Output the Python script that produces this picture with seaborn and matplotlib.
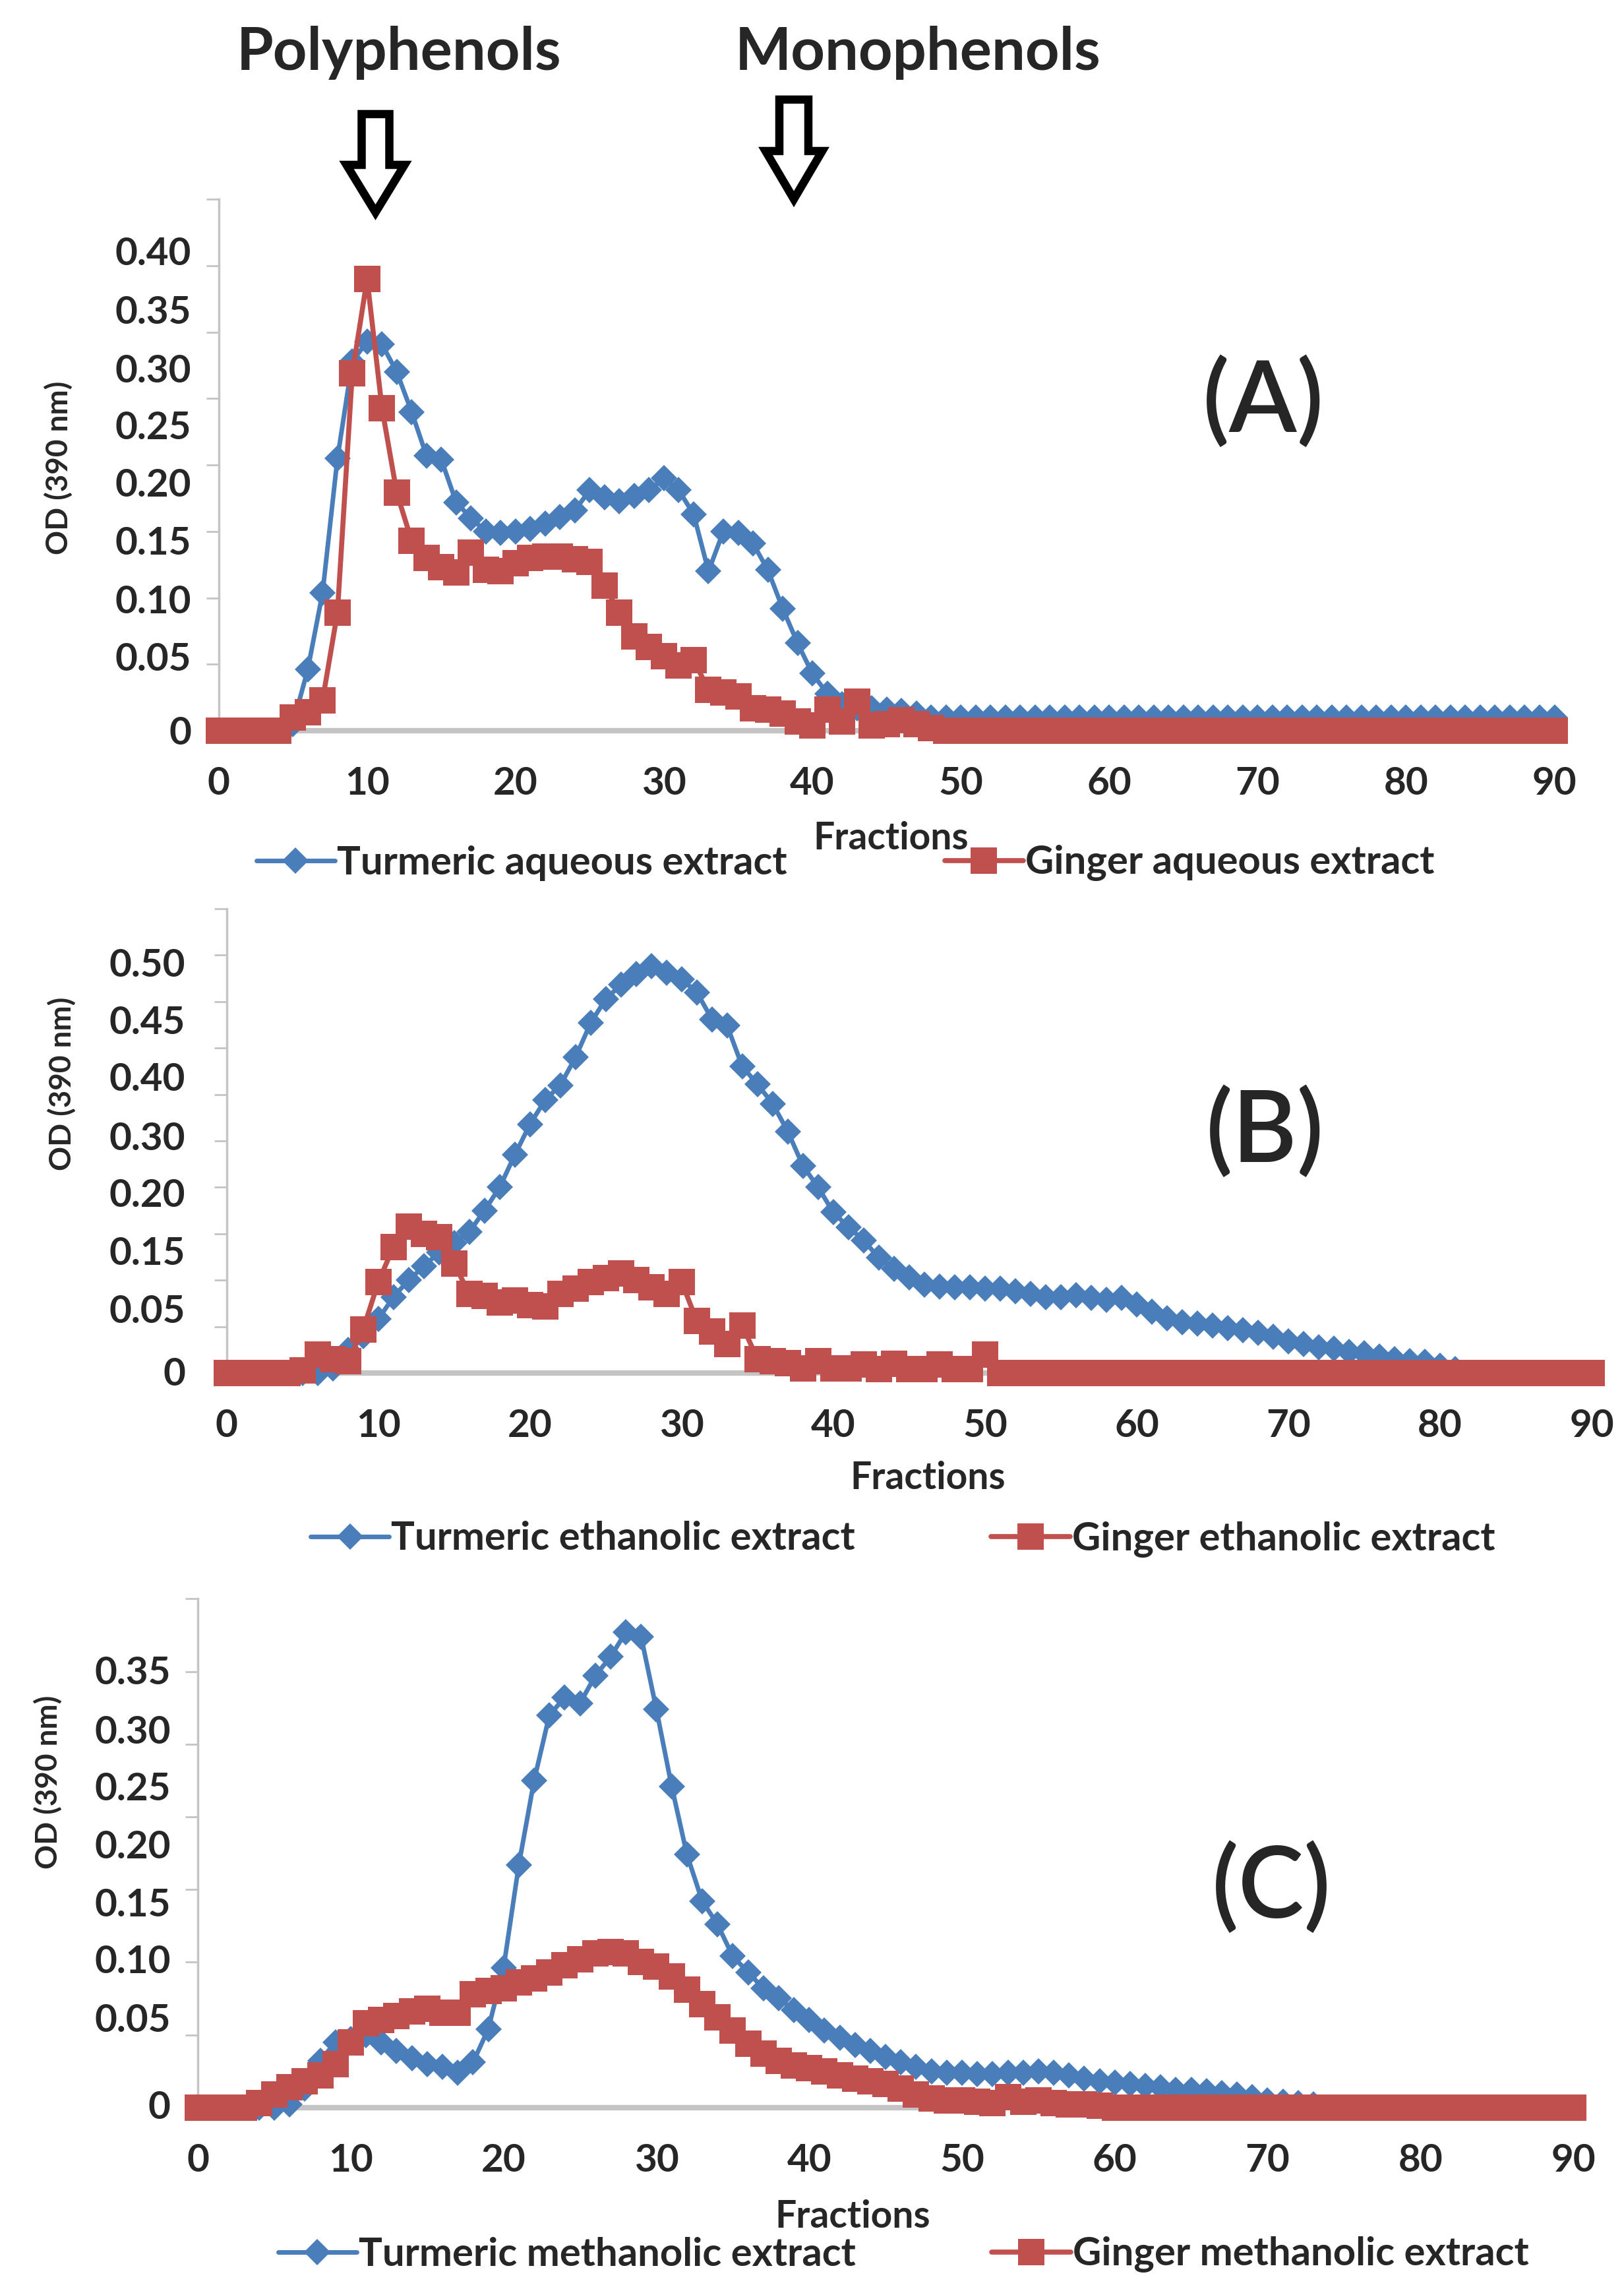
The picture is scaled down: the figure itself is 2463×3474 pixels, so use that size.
import numpy as np
import pandas as pd
import matplotlib
matplotlib.use("Agg")
import matplotlib.pyplot as plt
from matplotlib.lines import Line2D
from matplotlib.patches import Polygon
import seaborn as sns

# ---- data ----
fractions = list(range(0, 91))

turmeric_aq = [
    0, 0, 0, 0, 0, 0.005, 0.046, 0.104, 0.205, 0.278,
    0.293, 0.291, 0.270, 0.240, 0.207, 0.204, 0.172, 0.160, 0.150, 0.149,
    0.150, 0.152, 0.156, 0.161, 0.166, 0.181, 0.176, 0.173, 0.177, 0.181,
    0.190, 0.181, 0.163, 0.120, 0.150, 0.149, 0.141, 0.121, 0.092, 0.066,
    0.043, 0.028, 0.020, 0.017, 0.017, 0.016, 0.015, 0.013, 0.010, 0.010,
    0.010, 0.010, 0.010, 0.010, 0.010, 0.010, 0.010, 0.010, 0.010, 0.010,
    0.010, 0.010, 0.010, 0.010, 0.010, 0.010, 0.010, 0.010, 0.010, 0.010,
    0.010, 0.010, 0.010, 0.010, 0.010, 0.010, 0.010, 0.010, 0.010, 0.010,
    0.010, 0.010, 0.010, 0.010, 0.010, 0.010, 0.010, 0.010, 0.010, 0.010,
    0.010]
ginger_aq = [
    0, 0, 0, 0, 0, 0.010, 0.014, 0.023, 0.089, 0.269,
    0.340, 0.243, 0.179, 0.143, 0.130, 0.123, 0.119, 0.134, 0.121, 0.120,
    0.126, 0.130, 0.131, 0.131, 0.129, 0.127, 0.109, 0.089, 0.071, 0.063,
    0.056, 0.049, 0.053, 0.031, 0.029, 0.026, 0.017, 0.016, 0.013, 0.007,
    0.004, 0.016, 0.007, 0.022, 0.004, 0.005, 0.008, 0.005, 0.002, 0,
    0, 0, 0, 0, 0, 0, 0, 0, 0, 0,
    0, 0, 0, 0, 0, 0, 0, 0, 0, 0,
    0, 0, 0, 0, 0, 0, 0, 0, 0, 0,
    0, 0, 0, 0, 0, 0, 0, 0, 0, 0,
    0]

turmeric_eth = [
    0, 0, 0, 0, 0, 0, 0, 0.005, 0.025, 0.040,
    0.058, 0.082, 0.100, 0.115, 0.130, 0.140, 0.152, 0.175, 0.200, 0.235,
    0.268, 0.294, 0.310, 0.340, 0.377, 0.403, 0.418, 0.430, 0.438, 0.431,
    0.424, 0.410, 0.381, 0.374, 0.330, 0.311, 0.290, 0.260, 0.223, 0.200,
    0.173, 0.157, 0.143, 0.124, 0.112, 0.103, 0.095, 0.093, 0.092, 0.092,
    0.091, 0.091, 0.088, 0.085, 0.082, 0.082, 0.084, 0.081, 0.079, 0.081,
    0.074, 0.066, 0.059, 0.055, 0.053, 0.051, 0.048, 0.046, 0.043, 0.039,
    0.034, 0.031, 0.028, 0.026, 0.023, 0.021, 0.018, 0.015, 0.013, 0.012,
    0.008, 0.004, 0, 0, 0, 0, 0, 0, 0, 0,
    0]
ginger_eth = [
    0, 0, 0, 0, 0, 0.003, 0.020, 0.015, 0.013, 0.047,
    0.098, 0.136, 0.158, 0.150, 0.146, 0.118, 0.085, 0.083, 0.076, 0.078,
    0.073, 0.072, 0.085, 0.091, 0.098, 0.102, 0.107, 0.100, 0.092, 0.085,
    0.098, 0.056, 0.045, 0.031, 0.051, 0.015, 0.013, 0.011, 0.005, 0.013,
    0.005, 0.005, 0.009, 0.004, 0.010, 0.004, 0.004, 0.009, 0.004, 0.004,
    0.020, 0, 0, 0, 0, 0, 0, 0, 0, 0,
    0, 0, 0, 0, 0, 0, 0, 0, 0, 0,
    0, 0, 0, 0, 0, 0, 0, 0, 0, 0,
    0, 0, 0, 0, 0, 0, 0, 0, 0, 0,
    0]

turmeric_meth = [
    0, 0, 0, 0, 0, 0, 0.002, 0.013, 0.032, 0.045,
    0.047, 0.050, 0.045, 0.039, 0.034, 0.030, 0.028, 0.024, 0.031, 0.054,
    0.096, 0.167, 0.225, 0.270, 0.282, 0.278, 0.297, 0.310, 0.327, 0.324,
    0.274, 0.221, 0.174, 0.142, 0.126, 0.104, 0.093, 0.082, 0.075, 0.067,
    0.060, 0.053, 0.048, 0.043, 0.039, 0.035, 0.031, 0.028, 0.025, 0.024,
    0.024, 0.023, 0.023, 0.024, 0.024, 0.025, 0.024, 0.022, 0.020, 0.018,
    0.017, 0.016, 0.015, 0.014, 0.012, 0.012, 0.011, 0.010, 0.009, 0.007,
    0.005, 0.004, 0.003, 0.002, 0, 0, 0, 0, 0, 0,
    0, 0, 0, 0, 0, 0, 0, 0, 0, 0,
    0]
ginger_meth = [
    0, 0, 0, 0, 0.003, 0.009, 0.014, 0.018, 0.022, 0.030,
    0.045, 0.058, 0.060, 0.063, 0.066, 0.068, 0.065, 0.065, 0.078, 0.080,
    0.082, 0.086, 0.089, 0.093, 0.098, 0.102, 0.106, 0.107, 0.106, 0.100,
    0.097, 0.090, 0.081, 0.071, 0.062, 0.053, 0.044, 0.037, 0.032, 0.029,
    0.027, 0.025, 0.022, 0.020, 0.018, 0.016, 0.013, 0.009, 0.006, 0.005,
    0.005, 0.004, 0.003, 0.007, 0.004, 0.005, 0.003, 0.002, 0.002, 0.001,
    0, 0, 0, 0, 0, 0, 0, 0, 0, 0,
    0, 0, 0, 0, 0, 0, 0, 0, 0, 0,
    0, 0, 0, 0, 0, 0, 0, 0, 0, 0,
    0]

x_ticks = [0, 10, 20, 30, 40, 50, 60, 70, 80, 90]

# y tick labels as printed on the figure (they sit off the tick marks)
ylabels_a = ["0.40", "0.35", "0.30", "0.25", "0.20", "0.15", "0.10", "0.05", "0"]
ylabpos_a = [0.361, 0.317, 0.273, 0.230, 0.187, 0.143, 0.099, 0.056, 0.0]
ylabels_b = ["0.50", "0.45", "0.40", "0.30", "0.20", "0.15", "0.05", "0"]
ylabpos_b = [0.442, 0.380, 0.319, 0.255, 0.194, 0.132, 0.069, 0.002]
ylabels_c = ["0.35", "0.30", "0.25", "0.20", "0.15", "0.10", "0.05", "0"]
ylabpos_c = [0.301, 0.260, 0.221, 0.181, 0.141, 0.102, 0.062, 0.002]

legend_a = ["Turmeric aqueous extract", "Ginger aqueous extract"]
legend_b = ["Turmeric ethanolic extract", "Ginger ethanolic extract"]
legend_c = ["Turmeric methanolic extract", "Ginger methanolic extract"]

BLUE = "#4a7ebb"
RED = "#c0504d"
GRID_GREY = "#c4c4c4"

sns.set_theme(style="white")
plt.rcParams["font.family"] = ["Lato", "DejaVu Sans"]

W, H = 2463, 3474
fig = plt.figure(figsize=(W / 100, H / 100), dpi=100)

def rect(left_px, right_px, top_px, bottom_px):
    return [left_px / W, 1 - bottom_px / H, (right_px - left_px) / W, (bottom_px - top_px) / H]

panels = [
    dict(rect=rect(331.7, 2357.5, 302.4, 1108), ymax=0.40, t=turmeric_aq, g=ginger_aq,
         lab=ylabels_a, pos=ylabpos_a, ypad=30, leg=legend_a, leg_xy=(1282, 1309), colsp=4.0),
    dict(rect=rect(343.75, 2414, 1378, 2082), ymax=0.50, t=turmeric_eth, g=ginger_eth,
         lab=ylabels_b, pos=ylabpos_b, ypad=45, leg=legend_b, leg_xy=(1369, 2334), colsp=3.45),
    dict(rect=rect(300.2, 2386, 2424.3, 3195.7), ymax=0.35, t=turmeric_meth, g=ginger_meth,
         lab=ylabels_c, pos=ylabpos_c, ypad=30, leg=legend_c, leg_xy=(1370, 3419), colsp=3.45),
]

for p in panels:
    ax = fig.add_axes(p["rect"])
    df = pd.DataFrame({"Fractions": fractions, "Turmeric": p["t"], "Ginger": p["g"]})
    sns.lineplot(data=df, x="Fractions", y="Turmeric", ax=ax, color=BLUE, linewidth=5,
                 marker="D", markersize=20, markeredgewidth=0, clip_on=False, zorder=3)
    sns.lineplot(data=df, x="Fractions", y="Ginger", ax=ax, color=RED, linewidth=5.5,
                 marker="s", markersize=29, markeredgewidth=0, clip_on=False, zorder=4)
    ax.set_xlim(0, 90)
    ax.set_ylim(0, p["ymax"])
    ax.set_xlabel("")
    ax.set_ylabel("")
    for s in ["top", "right"]:
        ax.spines[s].set_visible(False)
    ax.spines["left"].set_color(GRID_GREY)
    ax.spines["left"].set_linewidth(2.5)
    ax.spines["bottom"].set_color(GRID_GREY)
    ax.spines["bottom"].set_linewidth(6)
    ax.set_xticks(x_ticks)
    ax.set_xticklabels([str(v) for v in x_ticks])
    ax.tick_params(axis="x", direction="out", length=16, width=2, color=GRID_GREY,
                   pad=23, labelsize=42)
    ax.set_yticks(p["pos"])
    ax.set_yticklabels(p["lab"])
    ax.tick_params(axis="y", which="major", length=0, pad=p["ypad"], labelsize=42)
    ax.set_yticks(np.arange(0, p["ymax"] + 0.001, 0.05), minor=True)
    ax.tick_params(axis="y", which="minor", direction="out", length=14, width=2,
                   color=GRID_GREY, left=True)
    for lbl in ax.get_xticklabels() + ax.get_yticklabels():
        lbl.set_fontweight("bold")
    ax.set_facecolor("none")

    handles = [
        Line2D([], [], color=BLUE, lw=5, marker="D", markersize=20, markeredgewidth=0),
        Line2D([], [], color=RED, lw=5.5, marker="s", markersize=29, markeredgewidth=0),
    ]
    cx, cy = p["leg_xy"]
    ax.legend(handles, p["leg"], loc="center", bbox_to_anchor=(cx / W, 1 - cy / H),
              bbox_transform=fig.transFigure, ncol=2, frameon=False,
              prop={"weight": "bold", "size": 43}, handlelength=2.0,
              handletextpad=0.05, columnspacing=p["colsp"], borderpad=0)

# ---- overlay in pixel coordinates for annotations ----
ov = fig.add_axes([0, 0, 1, 1])
ov.set_xlim(0, W)
ov.set_ylim(H, 0)
ov.axis("off")

ov.text(605, 80, "Polyphenols", ha="center", va="center", fontsize=65, fontweight="bold")
ov.text(1392, 80, "Monophenols", ha="center", va="center", fontsize=65, fontweight="bold")

def block_arrow(xc, top, head_y, tip, shaft_hw, head_hw):
    pts = [(xc - shaft_hw, top), (xc + shaft_hw, top), (xc + shaft_hw, head_y),
           (xc + head_hw, head_y), (xc, tip), (xc - head_hw, head_y),
           (xc - shaft_hw, head_y)]
    ov.add_patch(Polygon(pts, closed=True, facecolor="white", edgecolor="black",
                         linewidth=9, joinstyle="miter"))

block_arrow(569.5, 173, 250, 322, 21, 44)
block_arrow(1204, 151, 229, 302, 22, 43)

ov.text(1916, 611, "(A)", ha="center", va="center", fontsize=108, fontweight="semibold")
ov.text(1919, 1718, "(B)", ha="center", va="center", fontsize=108, fontweight="semibold")
ov.text(1928, 2864, "(C)", ha="center", va="center", fontsize=108, fontweight="semibold")

for (x, y) in [(89, 709), (94, 1643), (73, 2702)]:
    ov.text(x, y, "OD (390 nm)", ha="center", va="center", rotation=90,
            fontsize=33, fontweight="bold")

for (x, y) in [(1351, 1272), (1407, 2241), (1293, 3362)]:
    ov.text(x, y, "Fractions", ha="center", va="center", fontsize=41, fontweight="bold")

fig.savefig("out.png", dpi=100)
